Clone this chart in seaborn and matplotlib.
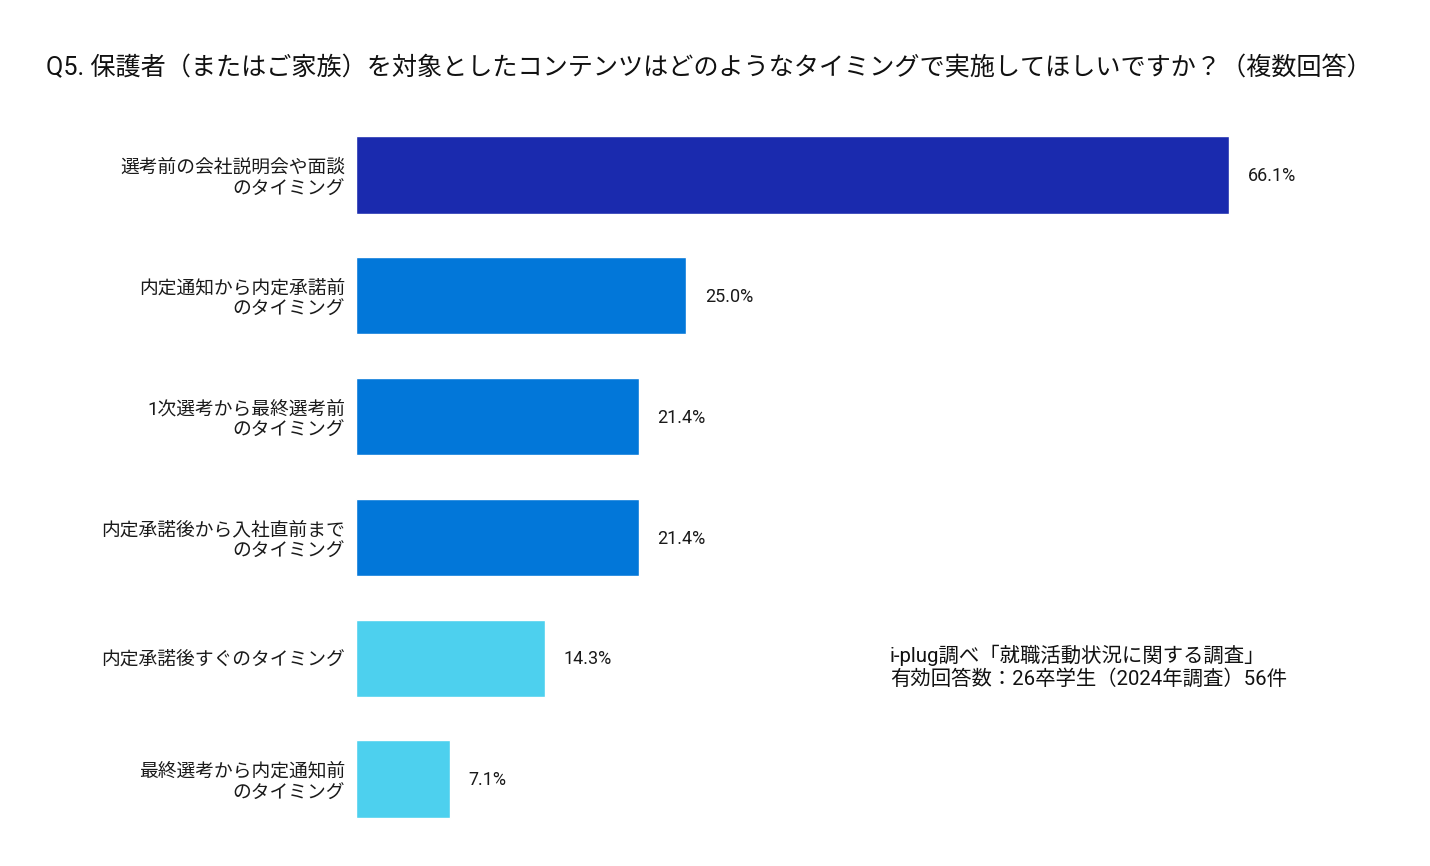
import matplotlib
matplotlib.use("Agg")
import matplotlib.pyplot as plt
import seaborn as sns
import pandas as pd

# --- DATA ---
categories = [
    "選考前の会社説明会や面談\nのタイミング",
    "内定通知から内定承諾前\nのタイミング",
    "1次選考から最終選考前\nのタイミング",
    "内定承諾後から入社直前まで\nのタイミング",
    "内定承諾後すぐのタイミング",
    "最終選考から内定通知前\nのタイミング",
]
values = [66.1, 25.0, 21.4, 21.4, 14.3, 7.1]
bar_colors = ["#1A2AAE", "#0277D9", "#0277D9", "#0277D9", "#4DD0EE", "#4DD0EE"]

title = "Q5. 保護者（またはご家族）を対象としたコンテンツはどのようなタイミングで実施してほしいですか？（複数回答）"
note = "i-plug調べ「就職活動状況に関する調査」\n有効回答数：26卒学生（2024年調査）56件"

df = pd.DataFrame({"category": categories, "value": values})

sns.set_theme(style="white")
plt.rcParams["font.family"] = ["Roboto", "Noto Sans CJK JP", "DejaVu Sans"]

fig = plt.figure(figsize=(14.3, 8.66), dpi=100)
ax = fig.add_axes([0.249, 0.0307, 0.6928, 0.837])

sns.barplot(data=df, x="value", y="category", hue="category",
            palette=bar_colors, legend=False, width=0.64,
            saturation=1, ax=ax)

ax.set_xlim(0, 75)
ax.set_xlabel("")
ax.set_ylabel("")
ax.set_xticks([])
ax.tick_params(axis="y", length=0, pad=8, labelsize=13.5)
for lbl in ax.get_yticklabels():
    lbl.set_horizontalalignment("right")
    lbl.set_multialignment("right")
    lbl.set_color("#1a1a1a")
    lbl.set_linespacing(1.25)
sns.despine(ax=ax, left=True, bottom=True)

for i, v in enumerate(values):
    ax.text(v + 1.4, i + 0.01, f"{v:.1f}%", va="center", ha="left",
            fontsize=13, color="#1a1a1a")

fig.text(46 / 1430, 1 - 68 / 866, title, fontsize=18.1, va="center",
         ha="left", color="#111111")
fig.text(890 / 1430, 1 - 667 / 866, note, fontsize=14.7, va="center",
         ha="left", color="#111111", linespacing=1.2)

fig.savefig("out.png", dpi=100)
